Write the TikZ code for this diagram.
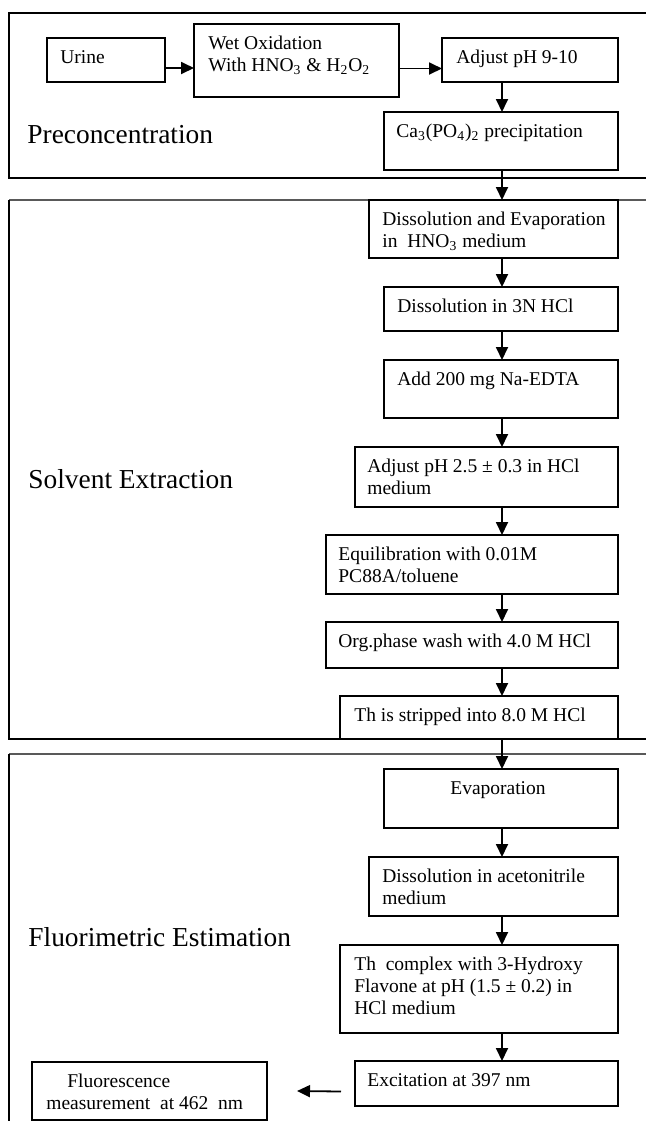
\documentclass[tikz,border=0pt]{standalone}
\usepackage{fontspec}
\setmainfont{Liberation Serif}
\usetikzlibrary{positioning,arrows.meta}

\begin{document}
\begin{tikzpicture}[x=0.5pt, y=-0.5pt,
	box/.style={draw, line width=0.9pt, anchor=north west, inner sep=0pt, outer sep=0pt},
	txt/.style={anchor=north west, inner sep=0pt, align=left, font=\fontsize{9.75pt}{11pt}\selectfont},
	stage/.style={anchor=base west, inner sep=0pt, font=\fontsize{13.7pt}{16pt}\selectfont},
	frame/.style={line width=0.9pt},
	framegray/.style={line width=0.9pt, black!65},
	arr/.style={-{Triangle[length=6.5pt, width=6pt]}, line width=0.9pt}]

	\useasboundingbox (0,0) rectangle (646,1121);

	%%% Frames %%%
	\draw[frame] (646,13) -- (9,13) -- (9,178) -- (646,178);
	\draw[framegray] (646,200) -- (9,200);
	\draw[frame] (9,200) -- (9,739) -- (646,739);
	\draw[framegray] (646,754) -- (9,754);
	\draw[frame] (9,754) -- (9,1121);

	\node[stage] (pre) at (27,143) {Preconcentration};
	\node[stage] (solv) at (28,488) {Solvent Extraction};
	\node[stage] (fluo) at (28,946) {Fluorimetric Estimation};

	%%% Preconcentration %%%
	\node[box, minimum width=59pt, minimum height=22pt] (urine) at (47,38) {};
	\node[box, minimum width=102.5pt, minimum height=36.5pt] (wet) at (194,24) {};
	\node[box, minimum width=88pt, minimum height=22pt] (adj1) at (442,38) {};
	\node[box, minimum width=117pt, minimum height=29pt, below left=15pt and 0pt of adj1.south east] (ca) {};

	\node[txt] (urine-t) at ([shift={(13,11.7)}]urine.north west) {Urine};
	\node[txt] (wet-t) at ([shift={(14,11.7)}]wet.north west) {Wet Oxidation\\With HNO\textsubscript{3} \& H\textsubscript{2}O\textsubscript{2}};
	\node[txt] (adj1-t) at ([shift={(14,11.7)}]adj1.north west) {Adjust pH 9-10};
	\node[txt] (ca-t) at ([shift={(12,11.7)}]ca.north west) {Ca\textsubscript{3}(PO\textsubscript{4})\textsubscript{2} precipitation};

	%%% Solvent Extraction %%%
	\node[box, minimum width=124.5pt, minimum height=29pt, below left=15pt and 0pt of ca.south east] (dis1) {};
	\node[box, minimum width=117pt, minimum height=22pt, below left=14.5pt and 0pt of dis1.south east] (dis2) {};
	\node[box, minimum width=117pt, minimum height=29pt, below left=14.5pt and 0pt of dis2.south east] (edta) {};
	\node[box, minimum width=131.5pt, minimum height=30pt, below left=14.5pt and 0pt of edta.south east] (adj2) {};
	\node[box, minimum width=146pt, minimum height=29.5pt, below left=14pt and 0pt of adj2.south east] (equ) {};
	\node[box, minimum width=146pt, minimum height=23pt, below left=14pt and 0pt of equ.south east] (org) {};
	\node[box, minimum width=139pt, minimum height=21.5pt, below left=14pt and 0pt of org.south east] (strip) {};

	\node[txt] (dis1-t) at ([shift={(13,11.7)}]dis1.north west) {Dissolution and Evaporation\\in\ \ HNO\textsubscript{3} medium};
	\node[txt] (dis2-t) at ([shift={(13,11.7)}]dis2.north west) {Dissolution in 3N HCl};
	\node[txt] (edta-t) at ([shift={(13,11.7)}]edta.north west) {Add 200 mg Na-EDTA};
	\node[txt] (adj2-t) at ([shift={(12,11.7)}]adj2.north west) {Adjust pH 2.5 ± 0.3 in HCl\\medium};
	\node[txt] (equ-t) at ([shift={(12,11.7)}]equ.north west) {Equilibration with 0.01M\\PC88A/toluene};
	\node[txt] (org-t) at ([shift={(12,11.7)}]org.north west) {Org.phase wash with 4.0 M HCl};
	\node[txt] (strip-t) at ([shift={(14,11.7)}]strip.north west) {Th is stripped into 8.0 M HCl};

	%%% Fluorimetric Estimation %%%
	\node[box, minimum width=117pt, minimum height=29.5pt, below left=15pt and 0pt of strip.south east] (evap) {};
	\node[box, minimum width=124.5pt, minimum height=29.5pt, below left=14.5pt and 0pt of evap.south east] (dis3) {};
	\node[box, minimum width=139pt, minimum height=44pt, below left=14.5pt and 0pt of dis3.south east] (cplx) {};
	\node[box, minimum width=131.5pt, minimum height=22.5pt, below left=14pt and 0pt of cplx.south east] (exc) {};
	\node[box, minimum width=117.5pt, minimum height=29pt] (fluor) at (32,1062) {};

	\node[txt, anchor=north] (evap-t) at ([shift={(-3,11.7)}]evap.north) {Evaporation};
	\node[txt] (dis3-t) at ([shift={(13,11.7)}]dis3.north west) {Dissolution in acetonitrile\\medium};
	\node[txt] (cplx-t) at ([shift={(14,11.7)}]cplx.north west) {Th\ \ complex with 3-Hydroxy\\Flavone at pH (1.5 ± 0.2) in\\HCl medium};
	\node[txt] (exc-t) at ([shift={(12,11.7)}]exc.north west) {Excitation at 397 nm};
	\node[txt] (fluor-t) at ([shift={(14,11.7)}]fluor.north west) {\hspace*{10.5pt}Fluorescence\\measurement\ \ at 462\ \ nm};

	%%% Arrows %%%
	\coordinate (spine) at (502,0);
	\coordinate (fluor-in) at ([xshift=15pt]fluor.east);

	\draw[arr] ([yshift=-4pt]urine.east) -- ([yshift=-4pt]urine.east -| wet.west);
	\draw[arr] ([yshift=-4pt]wet.east) -- ([yshift=-4pt]wet.east -| adj1.west);
	\draw[arr] (adj1.south -| spine) -- (ca.north -| spine);
	\draw[arr] (ca.south -| spine) -- (dis1.north -| spine);
	\draw[arr] (dis1.south -| spine) -- (dis2.north -| spine);
	\draw[arr] (dis2.south -| spine) -- (edta.north -| spine);
	\draw[arr] (edta.south -| spine) -- (adj2.north -| spine);
	\draw[arr] (adj2.south -| spine) -- (equ.north -| spine);
	\draw[arr] (equ.south -| spine) -- (org.north -| spine);
	\draw[arr] (org.south -| spine) -- (strip.north -| spine);
	\draw[arr] (strip.south -| spine) -- (evap.north -| spine);
	\draw[arr] (evap.south -| spine) -- (dis3.north -| spine);
	\draw[arr] (dis3.south -| spine) -- (cplx.north -| spine);
	\draw[arr] (cplx.south -| spine) -- (exc.north -| spine);
	\draw[arr] ([xshift=-7pt, yshift=-4pt]exc.west) -- (fluor-in);

\end{tikzpicture}
\end{document}
